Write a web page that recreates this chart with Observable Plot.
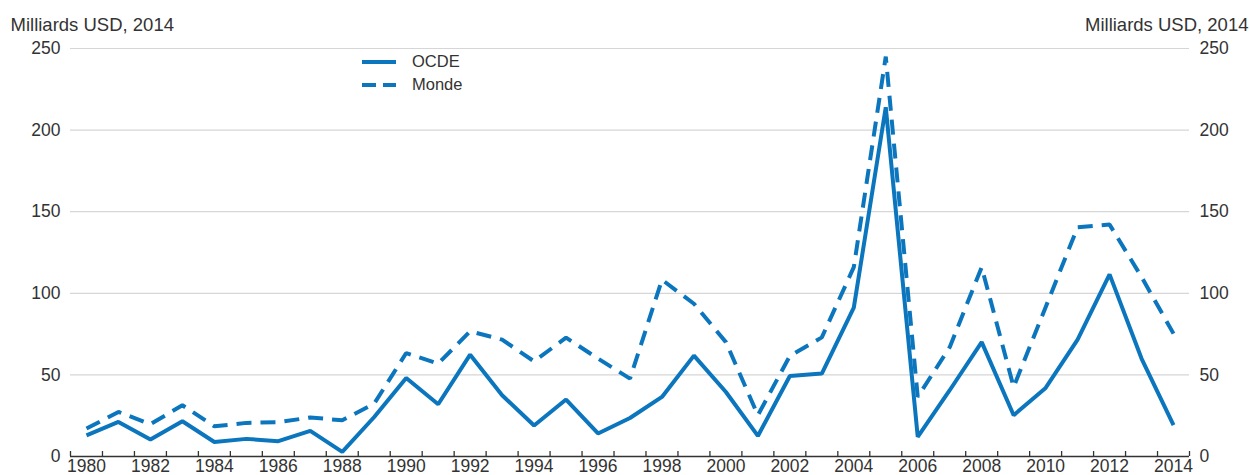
<!DOCTYPE html>
<html><head><meta charset="utf-8">
<script src="https://cdn.jsdelivr.net/npm/d3@7"></script>
<script src="https://cdn.jsdelivr.net/npm/@observablehq/plot@0.6"></script>
<style>
body{margin:0;background:#fff;font-family:"Liberation Sans",Arial,Helvetica,sans-serif;}
#wrap{position:relative;width:1250px;height:475px;overflow:hidden;}
.legend{position:absolute;left:362px;top:50px;font-size:16.5px;color:#333;line-height:1;}
.legend .item{display:flex;align-items:center;height:23px;}
.legend svg{margin-right:16px;display:block;}
</style></head><body><div id="wrap"></div>
<script>
const years = [1980,1981,1982,1983,1984,1985,1986,1987,1988,1989,1990,1991,1992,1993,1994,1995,1996,1997,1998,1999,2000,2001,2002,2003,2004,2005,2006,2007,2008,2009,2010,2011,2012,2013,2014];
const ocde  = [13.0,21.2,10.4,21.6,8.9,10.8,9.4,15.7,2.8,24.2,48.1,32.0,62.4,37.5,19.0,34.9,14.1,23.6,36.5,61.8,39.5,12.6,49.3,50.8,91.2,214,12.0,40.6,70.1,25.3,42.0,71.6,111.6,60.0,19.2];
const monde = [17.1,27.3,19.8,31.4,18.5,20.6,21.0,23.9,22.2,32.4,63.4,56.9,76.7,71.6,58.3,72.8,60.0,47.7,108.3,93.6,70.1,25.3,61.6,73.0,116,245,36.5,67.0,116,42.6,91.5,140.5,142.1,110,75.3];
const yTicks = [0,50,100,150,200,250];
const xLabelYears = [1980,1982,1984,1986,1988,1990,1992,1994,1996,1998,2000,2002,2004,2006,2008,2010,2012,2014];
const seriesNames = ["OCDE","Monde"];
const unitTitle = "Milliards USD, 2014";
const blue = "#0b76bd";
const ink = "#333333";

const rows = years.map((y,i)=>({year:y, ocde:ocde[i], monde:monde[i]}));
const bandEdges = years.map(y=>y-0.5).concat([years[years.length-1]+0.5]);
const font = '"Liberation Sans",Arial,Helvetica,sans-serif';

const chart = Plot.plot({
  width:1250, height:475,
  marginLeft:70, marginRight:61, marginTop:48, marginBottom:19,
  style:{fontFamily:font, fontSize:"17.5px", color:ink, background:"#fff", overflow:"visible"},
  x:{type:"linear", domain:[bandEdges[0], bandEdges[bandEdges.length-1]]},
  y:{domain:[0,250]},
  marks:[
    Plot.gridY({ticks:yTicks.filter(d=>d>0), stroke:"#d6d6d6", strokeOpacity:1, strokeWidth:1.2}),
    Plot.axisY({ticks:yTicks, anchor:"left", tickSize:0, tickPadding:10, label:null, fill:ink}),
    Plot.axisY({ticks:yTicks, anchor:"right", tickSize:0, tickPadding:10, label:null, fill:ink}),
    Plot.axisX({ticks:xLabelYears, anchor:"bottom", tickSize:0, tickPadding:3, tickFormat:d=>String(d), label:null, fill:ink}),
    Plot.ruleX(bandEdges, {x:d=>d, y1:0, y2:0, insetBottom:5, stroke:ink, strokeWidth:1.3}),
    Plot.ruleY([0], {stroke:ink, strokeWidth:1.5}),
    Plot.line(rows, {x:"year", y:"monde", stroke:blue, strokeWidth:4, strokeDasharray:"15,9", strokeLinejoin:"miter", strokeLinecap:"butt"}),
    Plot.line(rows, {x:"year", y:"ocde", stroke:blue, strokeWidth:4, strokeLinejoin:"miter", strokeLinecap:"butt"}),
    Plot.text([unitTitle], {text:d=>d, frameAnchor:"top-left", dx:-60, dy:-31, fontSize:18.5, fill:ink}),
    Plot.text([unitTitle], {text:d=>d, frameAnchor:"top-right", dx:59, dy:-31, fontSize:18.5, fill:ink})
  ]
});

const wrap = document.getElementById("wrap");
wrap.appendChild(chart);

const legend = document.createElement("div");
legend.className = "legend";
seriesNames.forEach((name,i)=>{
  const item = document.createElement("div");
  item.className = "item";
  const dash = i===1 ? ' stroke-dasharray="14,7"' : '';
  item.innerHTML = `<svg width="34" height="6"><line x1="0" y1="3" x2="34" y2="3" stroke="${blue}" stroke-width="4"${dash}/></svg><span>${name}</span>`;
  legend.appendChild(item);
});
wrap.appendChild(legend);
</script></body></html>
